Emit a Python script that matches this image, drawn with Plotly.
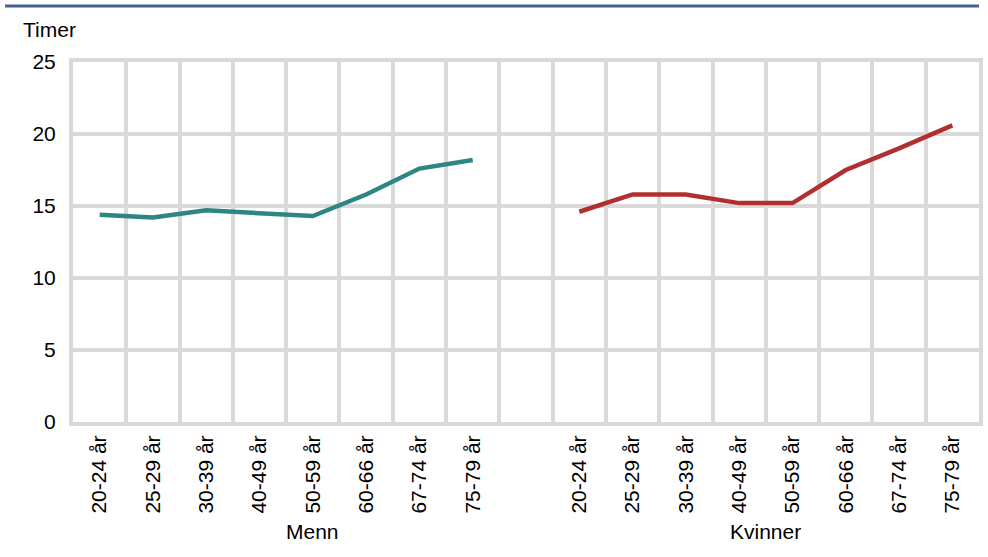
import plotly.graph_objects as go

# categories
age_groups = ["20-24 år", "25-29 år", "30-39 år", "40-49 år",
              "50-59 år", "60-66 år", "67-74 år", "75-79 år"]
groups = ["Menn", "Kvinner"]

# hours per week
menn = [14.4, 14.2, 14.7, 14.5, 14.3, 15.8, 17.6, 18.2]
kvinner = [14.6, 15.8, 15.8, 15.2, 15.2, 17.5, 19.0, 20.6]

y_ticks = [0, 5, 10, 15, 20, 25]

grid = "#d9d9d9"
font = "Arial, Liberation Sans, sans-serif"

# positions: 8 men slots, one empty slot, 8 women slots
n = len(age_groups)
x_menn = list(range(n))
x_kvinner = [n + 1 + i for i in range(n)]
n_slots = 2 * n + 1

fig = go.Figure()
fig.add_trace(go.Scatter(x=x_menn, y=menn, mode="lines",
                         line=dict(color="#2e8683", width=4.5), name="Menn"))
fig.add_trace(go.Scatter(x=x_kvinner, y=kvinner, mode="lines",
                         line=dict(color="#b1302f", width=4.5), name="Kvinner"))

fig.update_layout(
    width=988, height=557,
    margin=dict(l=73, r=5, t=62, b=135),
    paper_bgcolor="white", plot_bgcolor="white",
    showlegend=False,
    font=dict(family=font, size=21, color="black"),
    xaxis=dict(
        range=[-0.5, n_slots - 0.5],
        tickmode="array",
        tickvals=x_menn + x_kvinner,
        ticktext=age_groups + age_groups,
        tickangle=-90,
        showgrid=False, zeroline=False,
        showline=True, linecolor=grid, linewidth=4, mirror=True,
        ticks="", ticklabelstandoff=1,
        minor=dict(tickvals=[i - 0.5 for i in range(n_slots + 1)],
                   showgrid=True, gridcolor=grid, gridwidth=4, ticks=""),
    ),
    yaxis=dict(
        range=[0, 25],
        tickvals=y_ticks,
        showgrid=True, gridcolor=grid, gridwidth=4,
        zeroline=False,
        showline=True, linecolor=grid, linewidth=4, mirror=True,
        ticks="", ticklabelstandoff=9,
    ),
)

# group labels under the age labels (men's group spans the empty slot too)
fig.add_annotation(x=n / 2, y=-0.305, xref="x", yref="paper",
                   text=groups[0], showarrow=False, yanchor="middle")
fig.add_annotation(x=(x_kvinner[0] + x_kvinner[-1]) / 2, y=-0.305,
                   xref="x", yref="paper",
                   text=groups[1], showarrow=False, yanchor="middle")

# unit label
fig.add_annotation(x=-0.057, y=1.089, xref="paper", yref="paper",
                   text="Timer", showarrow=False,
                   xanchor="left", yanchor="middle")

# blue rule at the top
fig.add_shape(type="line", xref="paper", yref="paper",
              x0=-0.075, x1=1.0, y0=1.1556, y1=1.1556,
              line=dict(color="#44608f", width=3))

fig.write_html("out.html", config={"displayModeBar": False},
               post_script="document.body.style.margin='0';"
                           "document.body.style.overflow='hidden';")
